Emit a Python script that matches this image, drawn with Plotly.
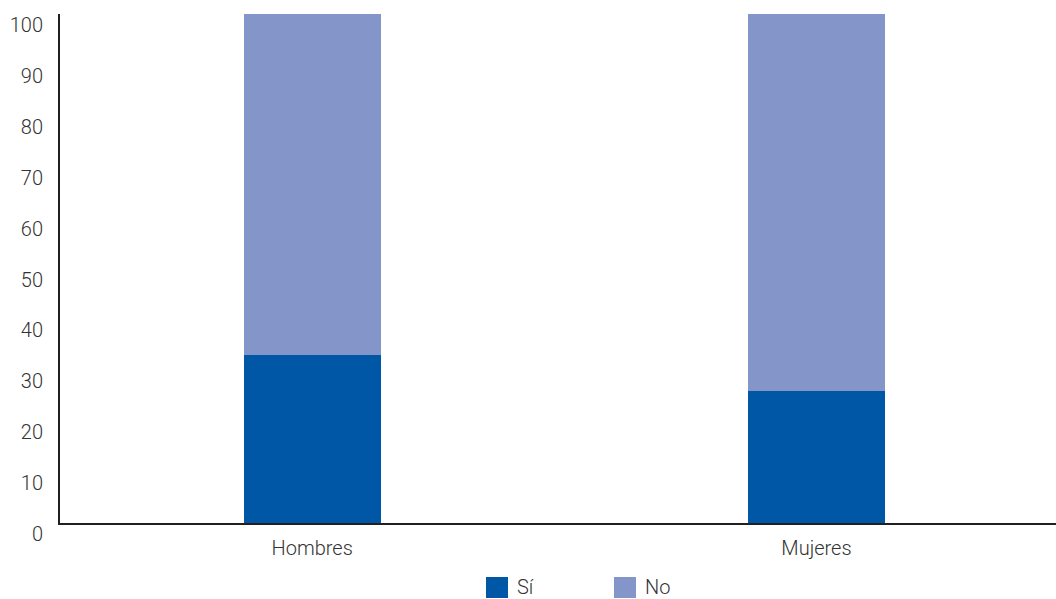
import plotly.graph_objects as go

categories = ["Hombres", "Mujeres"]
si_values = [33, 26]
no_values = [67, 74]
y_ticks = [0, 10, 20, 30, 40, 50, 60, 70, 80, 90, 100]

series_names = ["Sí", "No"]
series_colors = ["#0057A6", "#8496C9"]
text_color = "#333333"
font_family = "Roboto, Liberation Sans, Arial, sans-serif"
font_size = 20
font_weight = 300

fig = go.Figure()
for name, vals, col in zip(series_names, [si_values, no_values], series_colors):
    fig.add_trace(go.Bar(
        x=categories, y=vals, name=name, marker=dict(color=col, line=dict(width=0)),
        width=0.272, showlegend=False,
    ))

# Legend drawn with larger square swatches
W, H = 1056, 599
ml, mr, mt, mb = 60, 0, 14, 76
pw, ph = W - ml - mr, H - mt - mb


def px_x(px):
    return (px - ml) / pw


def px_y(py):
    return (H - mb - py) / ph


legend_items = [(486, series_names[0], series_colors[0]), (614, series_names[1], series_colors[1])]
for x0, name, col in legend_items:
    fig.add_shape(type="rect", xref="paper", yref="paper",
                  x0=px_x(x0), x1=px_x(x0 + 22), y0=px_y(598), y1=px_y(577),
                  fillcolor=col, line=dict(width=0))
    fig.add_annotation(xref="paper", yref="paper", x=px_x(x0 + 29), y=px_y(587),
                       text=name, showarrow=False, xanchor="left", yanchor="middle",
                       font=dict(size=font_size, color=text_color, family=font_family,
                                 weight=font_weight))

tick_font = dict(size=font_size, color=text_color, family=font_family, weight=font_weight)

fig.update_layout(
    barmode="stack",
    width=W, height=H,
    margin=dict(l=ml, r=mr, t=mt, b=mb),
    plot_bgcolor="white", paper_bgcolor="white",
    font=dict(family=font_family, size=font_size, color=text_color, weight=font_weight),
    xaxis=dict(
        range=[-0.5, 1.475], showgrid=False, zeroline=False,
        showline=True, linecolor="#231F20", linewidth=2,
        ticks="", ticklabelstandoff=6,
        tickfont=tick_font,
    ),
    yaxis=dict(
        range=[0, 100], tickvals=y_ticks, showgrid=False, zeroline=False,
        showline=True, linecolor="#231F20", linewidth=2,
        ticks="", ticklabelstandoff=11, ticklabelshift=11,
        tickfont=tick_font,
    ),
)

fig.write_html("out.html")
